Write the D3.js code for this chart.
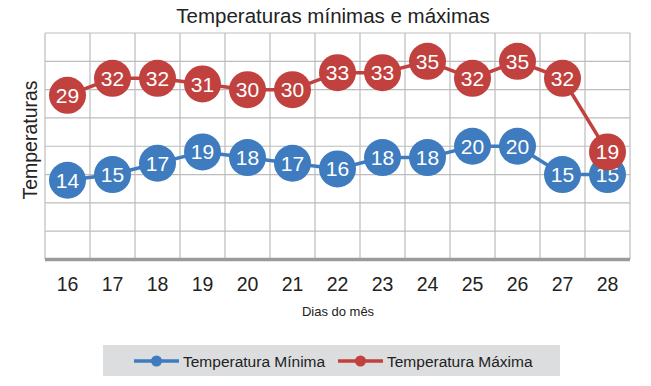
<!DOCTYPE html>
<html>
<head>
<meta charset="utf-8">
<script src="https://cdn.jsdelivr.net/npm/d3@7"></script>
<style>
  body { margin: 0; background: #fff; }
  svg { display: block; font-family: "Liberation Sans", Arial, sans-serif; }
</style>
</head>
<body>
<svg width="651" height="386"></svg>
<script>
const days = ["16", "17", "18", "19", "20", "21", "22", "23", "24", "25", "26", "27", "28"];
const minTemps = [14, 15, 17, 19, 18, 17, 16, 18, 18, 20, 20, 15, 15];
const maxTemps = [29, 32, 32, 31, 30, 30, 33, 33, 35, 32, 35, 32, 19];
const yTicks = [0, 5, 10, 15, 20, 25, 30, 35, 40];

const svg = d3.select("svg");
const margin = { top: 33, right: 21, bottom: 126.5, left: 45 };
const width = 651, height = 386;
const innerWidth = width - margin.left - margin.right;
const innerHeight = height - margin.top - margin.bottom;

const blue = "#3e7bbf";
const red = "#c1413f";

const x = d3.scaleBand().domain(days).range([0, innerWidth]);
const y = d3.scaleLinear().domain([0, 40]).range([innerHeight, 0]);

const g = svg.append("g")
  .attr("transform", `translate(${margin.left}, ${margin.top})`);

// grid
g.selectAll("line.h")
  .data(yTicks.slice(1))
  .enter()
  .append("line")
  .attr("x1", 0)
  .attr("x2", innerWidth)
  .attr("y1", d => y(d))
  .attr("y2", d => y(d))
  .attr("stroke", "#bdbdbd")
  .attr("stroke-width", 1.2);

g.selectAll("line.v")
  .data(days.map(d => x(d)).concat([innerWidth]))
  .enter()
  .append("line")
  .attr("x1", d => d)
  .attr("x2", d => d)
  .attr("y1", 0)
  .attr("y2", innerHeight)
  .attr("stroke", "#bdbdbd")
  .attr("stroke-width", 1.2);

// bottom axis line
g.append("line")
  .attr("x1", 0)
  .attr("x2", innerWidth)
  .attr("y1", innerHeight)
  .attr("y2", innerHeight)
  .attr("stroke", "#9b9b9b")
  .attr("stroke-width", 3.5);

// x tick labels
g.selectAll("text.tick")
  .data(days)
  .enter()
  .append("text")
  .attr("x", d => x(d) + x.bandwidth() / 2)
  .attr("y", innerHeight + 31)
  .attr("text-anchor", "middle")
  .attr("font-size", 19.5)
  .attr("fill", "#222")
  .text(d => d);

const line = d3.line()
  .x((d, i) => x(days[i]) + x.bandwidth() / 2)
  .y(d => y(d));

const series = [
  { values: minTemps, color: blue },
  { values: maxTemps, color: red }
];

series.forEach(s => {
  g.append("path")
    .attr("d", line(s.values))
    .attr("fill", "none")
    .attr("stroke", s.color)
    .attr("stroke-width", 3.5);

  const pts = g.append("g")
    .selectAll("g")
    .data(s.values)
    .enter()
    .append("g")
    .attr("transform", (d, i) => `translate(${x(days[i]) + x.bandwidth() / 2}, ${y(d)})`);

  pts.append("circle")
    .attr("r", 18.5)
    .attr("fill", s.color);

  pts.append("text")
    .attr("text-anchor", "middle")
    .attr("dy", "0.36em")
    .attr("font-size", 21)
    .attr("fill", "#fff")
    .text(d => d);
});

// titles
svg.append("text")
  .attr("x", 333)
  .attr("y", 23)
  .attr("text-anchor", "middle")
  .attr("font-size", 20.5)
  .attr("fill", "#222")
  .text("Temperaturas mínimas e máximas");

svg.append("text")
  .attr("transform", "translate(37, 140) rotate(-90)")
  .attr("text-anchor", "middle")
  .attr("font-size", 19.5)
  .attr("fill", "#222")
  .text("Temperaturas");

svg.append("text")
  .attr("x", 338)
  .attr("y", 316)
  .attr("text-anchor", "middle")
  .attr("font-size", 13)
  .attr("fill", "#222")
  .text("Dias do mês");

// legend
const legend = svg.append("g");
legend.append("rect")
  .attr("x", 103)
  .attr("y", 345)
  .attr("width", 457)
  .attr("height", 31)
  .attr("fill", "#dcdddf");

const legendItems = [
  { label: "Temperatura Mínima", color: blue, x: 134 },
  { label: "Temperatura Máxima", color: red, x: 338 }
];

legendItems.forEach(l => {
  legend.append("line")
    .attr("x1", l.x)
    .attr("x2", l.x + 45)
    .attr("y1", 361)
    .attr("y2", 361)
    .attr("stroke", l.color)
    .attr("stroke-width", 3.5);
  legend.append("circle")
    .attr("cx", l.x + 22.5)
    .attr("cy", 361)
    .attr("r", 5.5)
    .attr("fill", l.color);
  legend.append("text")
    .attr("x", l.x + 49)
    .attr("y", 366.5)
    .attr("font-size", 15.5)
    .attr("fill", "#222")
    .text(l.label);
});
</script>
</body>
</html>
